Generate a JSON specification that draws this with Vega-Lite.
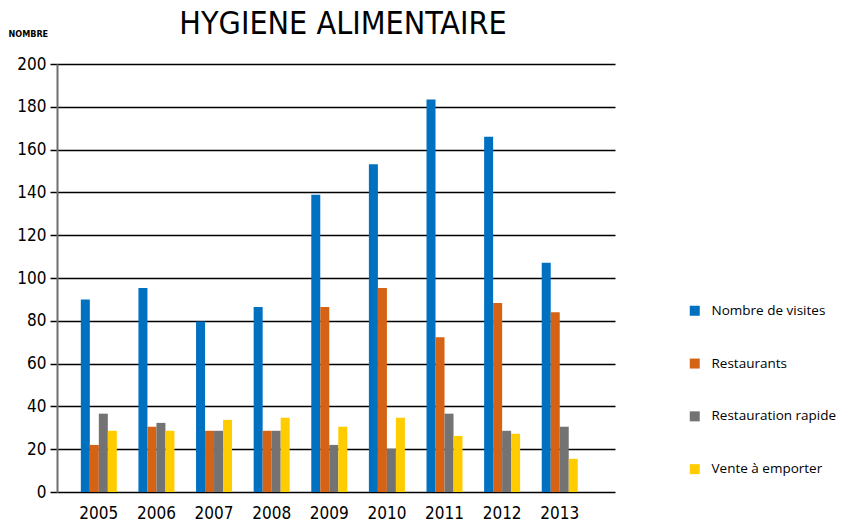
{
  "$schema": "https://vega.github.io/schema/vega-lite/v6.json",
  "width": 558,
  "height": 428,
  "autosize": {"type": "none"},
  "padding": {"left": 57, "top": 64, "right": 227, "bottom": 34},
  "background": "white",
  "config": {
    "view": {"stroke": null},
    "font": "Liberation Sans Narrow, DejaVu Sans Condensed, sans-serif"
  },
  "title": {
    "text": "HYGIENE ALIMENTAIRE",
    "fontSize": 32,
    "fontWeight": "normal",
    "color": "#000000",
    "anchor": "middle",
    "dx": 7,
    "offset": -12,
    "font": "Liberation Sans Narrow, DejaVu Sans Condensed, sans-serif"
  },
  "data": {
    "values": [
      {"annee": "2005", "serie": "Nombre de visites", "valeur": 90},
      {"annee": "2005", "serie": "Restaurants", "valeur": 22},
      {"annee": "2005", "serie": "Restauration rapide", "valeur": 36.6},
      {"annee": "2005", "serie": "Vente à emporter", "valeur": 28.6},
      {"annee": "2006", "serie": "Nombre de visites", "valeur": 95.3},
      {"annee": "2006", "serie": "Restaurants", "valeur": 30.5},
      {"annee": "2006", "serie": "Restauration rapide", "valeur": 32.3},
      {"annee": "2006", "serie": "Vente à emporter", "valeur": 28.6},
      {"annee": "2007", "serie": "Nombre de visites", "valeur": 79.7},
      {"annee": "2007", "serie": "Restaurants", "valeur": 28.6},
      {"annee": "2007", "serie": "Restauration rapide", "valeur": 28.6},
      {"annee": "2007", "serie": "Vente à emporter", "valeur": 33.7},
      {"annee": "2008", "serie": "Nombre de visites", "valeur": 86.4},
      {"annee": "2008", "serie": "Restaurants", "valeur": 28.6},
      {"annee": "2008", "serie": "Restauration rapide", "valeur": 28.6},
      {"annee": "2008", "serie": "Vente à emporter", "valeur": 34.7},
      {"annee": "2009", "serie": "Nombre de visites", "valeur": 138.9},
      {"annee": "2009", "serie": "Restaurants", "valeur": 86.4},
      {"annee": "2009", "serie": "Restauration rapide", "valeur": 22},
      {"annee": "2009", "serie": "Vente à emporter", "valeur": 30.5},
      {"annee": "2010", "serie": "Nombre de visites", "valeur": 153.1},
      {"annee": "2010", "serie": "Restaurants", "valeur": 95.3},
      {"annee": "2010", "serie": "Restauration rapide", "valeur": 20.2},
      {"annee": "2010", "serie": "Vente à emporter", "valeur": 34.7},
      {"annee": "2011", "serie": "Nombre de visites", "valeur": 183.4},
      {"annee": "2011", "serie": "Restaurants", "valeur": 72.3},
      {"annee": "2011", "serie": "Restauration rapide", "valeur": 36.6},
      {"annee": "2011", "serie": "Vente à emporter", "valeur": 26.2},
      {"annee": "2012", "serie": "Nombre de visites", "valeur": 166},
      {"annee": "2012", "serie": "Restaurants", "valeur": 88.3},
      {"annee": "2012", "serie": "Restauration rapide", "valeur": 28.6},
      {"annee": "2012", "serie": "Vente à emporter", "valeur": 27.2},
      {"annee": "2013", "serie": "Nombre de visites", "valeur": 107.1},
      {"annee": "2013", "serie": "Restaurants", "valeur": 84},
      {"annee": "2013", "serie": "Restauration rapide", "valeur": 30.5},
      {"annee": "2013", "serie": "Vente à emporter", "valeur": 15.5}
    ]
  },
  "mark": {"type": "bar"},
  "encoding": {
    "x": {
      "field": "annee",
      "type": "nominal",
      "scale": {"paddingInner": 0.375, "paddingOuter": 0.53, "align": 0.39},
      "axis": {
        "title": null,
        "labelAngle": 0,
        "ticks": false,
        "domain": false,
        "labelPadding": 13,
        "labelFontSize": 17,
        "labelColor": "#000000",
        "grid": false
      }
    },
    "xOffset": {
      "field": "serie",
      "type": "nominal",
      "sort": ["Nombre de visites", "Restaurants", "Restauration rapide", "Vente à emporter"],
      "scale": {"paddingInner": 0, "paddingOuter": 0}
    },
    "y": {
      "field": "valeur",
      "type": "quantitative",
      "scale": {"domain": [0, 200], "nice": false},
      "axis": {
        "values": [0, 20, 40, 60, 80, 100, 120, 140, 160, 180, 200],
        "title": "NOMBRE",
        "titleAngle": 0,
        "titleAlign": "left",
        "titleBaseline": "middle",
        "titleX": -49,
        "titleY": -31,
        "titleFontSize": 9,
        "titleFontWeight": "bold",
        "titleColor": "#000000",
        "labelFontSize": 17,
        "labelColor": "#000000",
        "labelPadding": 4,
        "tickSize": 7,
        "tickColor": "#000000",
        "tickWidth": 1.5,
        "domainColor": "#6e6e6e",
        "domainWidth": 2,
        "grid": true,
        "gridColor": "#000000",
        "gridWidth": 1.6
      }
    },
    "color": {
      "field": "serie",
      "type": "nominal",
      "sort": ["Nombre de visites", "Restaurants", "Restauration rapide", "Vente à emporter"],
      "scale": {
        "domain": ["Nombre de visites", "Restaurants", "Restauration rapide", "Vente à emporter"],
        "range": ["#0070C0", "#D46316", "#737373", "#FFCC00"]
      },
      "legend": {
        "title": null,
        "orient": "none",
        "legendX": 631,
        "legendY": 240,
        "symbolType": "square",
        "symbolSize": 100,
        "symbolStrokeWidth": 0,
        "labelFont": "Open Sans",
        "labelFontSize": 13.5,
        "labelColor": "#000000",
        "labelOffset": 10,
        "rowPadding": 37.8,
        "labelLimit": 200
      }
    }
  }
}
